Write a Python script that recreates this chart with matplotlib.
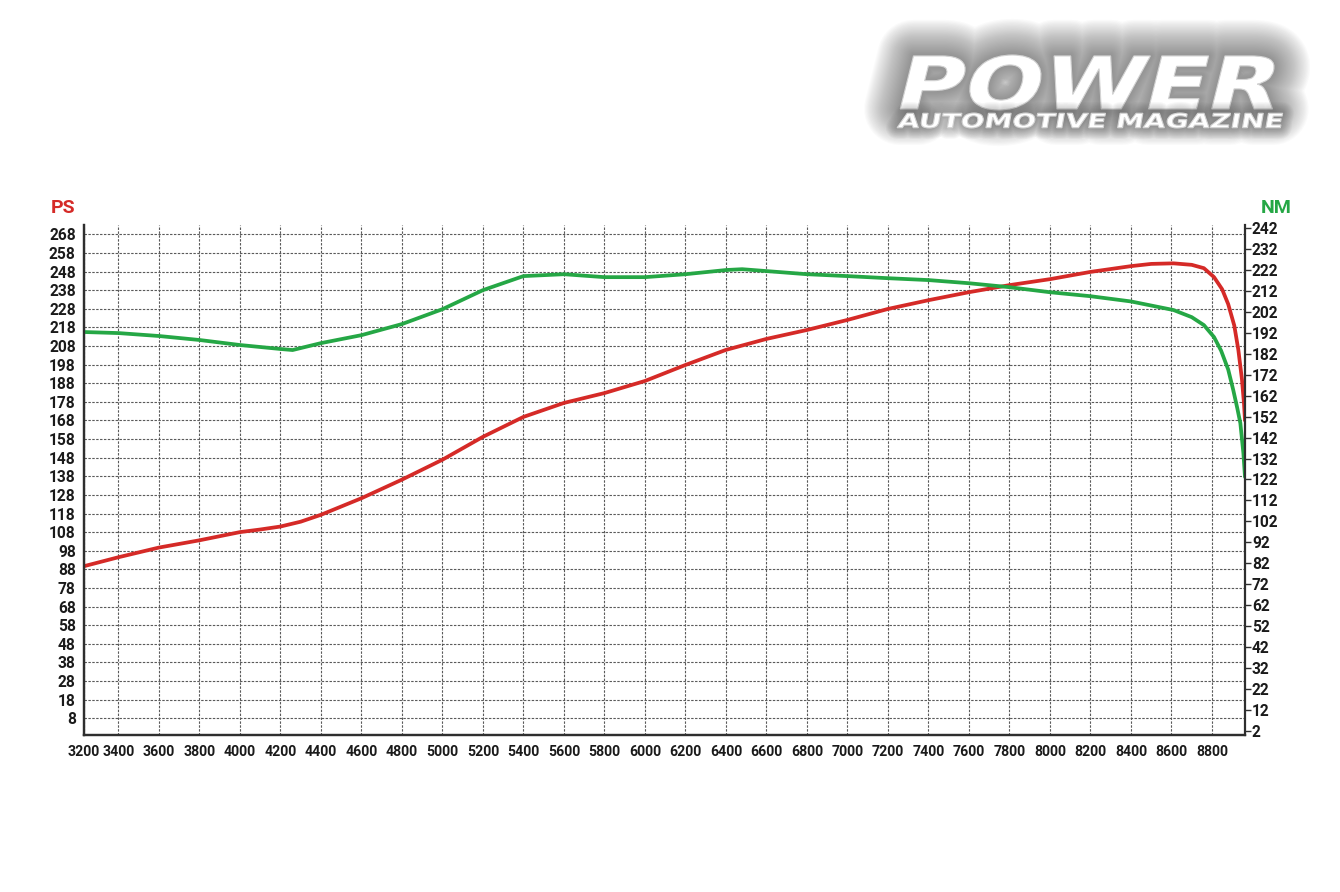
import math
import matplotlib
matplotlib.use('Agg')
import matplotlib.pyplot as plt
from matplotlib.textpath import TextPath
from matplotlib.patches import PathPatch
from matplotlib.font_manager import FontProperties
from matplotlib.transforms import Affine2D

plt.rcParams['font.family'] = ['Roboto', 'DejaVu Sans']
plt.rcParams['font.weight'] = 'bold'

# power curve (PS, left axis)
rpm_ps = [3230, 3400, 3600, 3800, 4000, 4100, 4200, 4300, 4400, 4600, 4800, 5000, 5200, 5400,
          5600, 5800, 6000, 6200, 6400, 6600, 6800, 7000, 7200, 7400, 7600, 7800,
          8000, 8200, 8400, 8500, 8610, 8700, 8760, 8810, 8850, 8880, 8910, 8930,
          8948, 8958, 8963]
ps = [89.7, 94.5, 99.7, 103.6, 108.0, 109.4, 111.0, 113.6, 117.3, 126.2, 136.2, 146.9, 159.2, 169.9,
      177.4, 182.7, 189.2, 197.8, 205.9, 211.8, 216.6, 222.0, 227.9, 232.6, 236.9, 240.7,
      243.9, 247.8, 250.9, 252.1, 252.4, 251.6, 249.8, 245.0, 238.5, 230.5, 219.0, 206.0,
      190.0, 177.0, 168.0]

# torque curve (Nm, right axis)
rpm_nm = [3230, 3400, 3600, 3800, 4000, 4200, 4260, 4400, 4600, 4800, 5000, 5200,
          5400, 5600, 5800, 6000, 6200, 6400, 6480, 6600, 6800, 7000, 7200, 7400,
          7600, 7800, 8000, 8200, 8400, 8610, 8700, 8760, 8810, 8845, 8880, 8905,
          8925, 8940, 8955, 8963]
nm = [192.4, 191.9, 190.5, 188.6, 186.2, 184.3, 183.8, 187.1, 190.9, 196.2, 203.3, 212.4,
      219.1, 220.0, 218.6, 218.6, 220.0, 222.0, 222.4, 221.5, 220.0, 219.1, 218.1, 217.2,
      215.7, 213.8, 211.4, 209.5, 207.0, 202.9, 199.5, 195.7, 190.0, 183.5, 174.5, 164.7,
      156.0, 148.9, 134.6, 123.2]

rpm_tick_pos = [3230] + list(range(3400, 8801, 200))
rpm_tick_labels = [str(v) for v in range(3200, 8801, 200)]
ps_ticks = list(range(8, 269, 10))
nm_ticks = list(range(2, 243, 10))

red = '#d52a27'
green = '#25a745'
dark = '#2e2e2e'

fig = plt.figure(figsize=(13.4, 8.92), dpi=100)
W, H = 1340, 892
ax = fig.add_axes([84 / W, 1 - 735 / H, (1245 - 84) / W, (735 - 225) / H])
ax2 = ax.twinx()

ax.plot(rpm_ps, ps, color=red, lw=2.7, solid_joinstyle='round', solid_capstyle='round')
ax2.plot(rpm_nm, nm, color=green, lw=2.7, solid_joinstyle='round', solid_capstyle='round')

ax.set_xlim(3230, 8963)
ax.set_ylim(-1, 273)
ax2.set_ylim(0, 243.5)

ax.set_xticks(rpm_tick_pos)
ax.set_xticklabels(rpm_tick_labels)
ax.set_yticks(ps_ticks)
ax2.set_yticks(nm_ticks)

ax.tick_params(axis='x', length=0, pad=7, labelsize=10.2, labelcolor='#1a1a1a')
ax.tick_params(axis='y', length=0, pad=6, labelsize=11.2, labelcolor='#1a1a1a')
ax2.tick_params(axis='y', direction='out', length=4, width=1, color=dark, pad=1,
                labelsize=11.2, labelcolor='#1a1a1a')

ax.grid(True, linestyle=(0, (2.2, 1.3)), color='#5a5a5a', lw=0.8)

for a in (ax, ax2):
    a.spines['top'].set_visible(False)
    for s in ('left', 'bottom', 'right'):
        a.spines[s].set_color(dark)
        a.spines[s].set_linewidth(1.6)
ax.spines['right'].set_visible(False)

fig.text(63 / W, 1 - 208 / H, 'PS', color=red, fontsize=14, ha='center', va='center',
         fontweight='bold')
fig.text(1276 / W, 1 - 208 / H, 'NM', color=green, fontsize=14, ha='center', va='center',
         fontweight='bold')


# magazine logo drawn as text paths, with a soft grey glow
def logo_text(s, x0, x1, ytop, ybot, shear_deg, max_glow, n_glow, alpha):
    fp = FontProperties(family='DejaVu Sans', weight='bold')
    tp = TextPath((0, 0), s, size=100, prop=fp)
    bb = tp.get_extents()
    h = ybot - ytop
    sh = math.tan(math.radians(shear_deg))
    sx = ((x1 - x0) - sh * h) / bb.width
    sy = h / bb.height
    tr = (Affine2D().translate(-bb.x0, -bb.y0).scale(sx, sy).skew_deg(shear_deg, 0)
          .translate(x0, H - ybot).scale(1 / W, 1 / H) + fig.transFigure)
    for i in range(n_glow):
        lw = max_glow * (1 - i / n_glow)
        fig.patches.append(PathPatch(tp, transform=tr, facecolor='#444444',
                                     edgecolor='#444444', lw=lw, alpha=alpha,
                                     joinstyle='round'))
    fig.patches.append(PathPatch(tp, transform=tr, facecolor='white', edgecolor='#d4d4d4',
                                 lw=0.8))


logo_text('POWER', 900, 1286, 55, 110, 14, 52, 30, 0.024)
logo_text('AUTOMOTIVE MAGAZINE', 897, 1283, 113, 128, 10, 16, 10, 0.04)

fig.savefig('out.png', dpi=100, facecolor='white')
